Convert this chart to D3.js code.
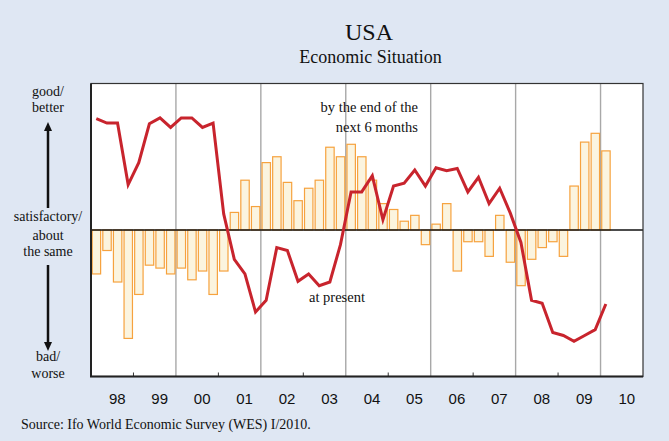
<!DOCTYPE html>
<html>
<head>
<meta charset="utf-8">
<script src="https://cdn.jsdelivr.net/npm/d3@7"></script>
<style>
  body { margin: 0; background: #dfe7f3; }
  svg text { font-family: "Liberation Serif", "Times New Roman", serif; fill: #111; }
  .xlab { font-family: "Liberation Sans", Arial, sans-serif !important; }
</style>
</head>
<body>
<div id="chart"></div>
<script>
// year tick labels
var yearLabels = ["98", "99", "00", "01", "02", "03", "04", "05", "06", "07", "08", "09", "10"];
var firstYear = 1998;

// expectations: by the end of the next 6 months (bars), quarterly 1998Q1 - 2010Q1
var expectations = [
  -30, -14, -35.5, -74,
  -44, -24, -26, -30,
  -26, -34, -28, -44,
  -28, 12, 34, 16,
  46, 50, 32.5, 20,
  28.5, 34, 56.5, 50,
  58.5, 50, 34, 18,
  14, 6, 10, -10,
  4, 18, -28, -8,
  -8, -18, 10, -22,
  -38, -20, -12, -8,
  -18, 30, 60, 66,
  54
];

// present situation (line), quarterly 1998Q1 - 2010Q1
var present = [
  76, 73, 73, 31,
  46, 72.5, 76.5, 70,
  76.5, 76.5, 70, 73,
  11, -20, -30, -56,
  -48, -12, -14, -35,
  -30, -38, -35.5, -10,
  26, 26, 37, 7,
  30, 32, 41, 30,
  42.5, 40.5, 42, 26,
  36, 18, 28.5, 11.5,
  -8.5, -48, -50, -70,
  -72, -76, -72, -68,
  -50.5
];

// quarter start times, e.g. 1998.0, 1998.25 ...
var quarters = expectations.map(function(d, i) { return firstYear + i / 4; });

var W = 669, H = 441;
var pLeft = 91, pRight = 643, pTop = 83.5, pBottom = 376.5;

var svg = d3.select("#chart")
  .append("svg")
    .attr("width", W)
    .attr("height", H);

svg.append("rect")
  .attr("width", W)
  .attr("height", H)
  .attr("fill", "#dfe7f3");

var x = d3.scaleLinear()
  .domain([firstYear, firstYear + yearLabels.length])
  .range([pLeft, pRight]);

var y = d3.scaleLinear()
  .domain([-100, 100])
  .range([pBottom, pTop]);

// plot area
svg.append("rect")
  .attr("x", pLeft)
  .attr("y", pTop)
  .attr("width", pRight - pLeft)
  .attr("height", pBottom - pTop)
  .attr("fill", "#fff");

// grid lines every two years
var gridYears = d3.range(firstYear + 2, firstYear + yearLabels.length, 2);
svg.selectAll(".grid")
  .data(gridYears)
  .enter()
  .append("line")
    .attr("x1", function(d) { return x(d); })
    .attr("x2", function(d) { return x(d); })
    .attr("y1", pTop)
    .attr("y2", pBottom)
    .attr("stroke", "#a8a8a8")
    .attr("stroke-width", 1.4);

// small ticks on the other years
var minorYears = d3.range(firstYear + 1, firstYear + yearLabels.length, 2);
svg.selectAll(".minor")
  .data(minorYears)
  .enter()
  .append("line")
    .attr("x1", function(d) { return x(d); })
    .attr("x2", function(d) { return x(d); })
    .attr("y1", pBottom - 4)
    .attr("y2", pBottom)
    .attr("stroke", "#333")
    .attr("stroke-width", 1);

// bars
var qw = x(firstYear + 0.25) - x(firstYear);
svg.selectAll(".bar")
  .data(expectations)
  .enter()
  .append("rect")
    .attr("x", function(d, i) { return x(quarters[i]) + 1.2; })
    .attr("y", function(d) { return d > 0 ? y(d) : y(0); })
    .attr("width", qw - 2.2)
    .attr("height", function(d) { return Math.abs(y(d) - y(0)); })
    .attr("fill", "#fbf4df")
    .attr("stroke", "#f6a23e")
    .attr("stroke-width", 1.2);

// zero line
svg.append("line")
  .attr("x1", pLeft)
  .attr("x2", pRight)
  .attr("y1", y(0))
  .attr("y2", y(0))
  .attr("stroke", "#111")
  .attr("stroke-width", 1.4);

// present situation line
var line = d3.line()
  .x(function(d, i) { return x(quarters[i]) + qw / 2; })
  .y(function(d) { return y(d); });

svg.append("path")
  .datum(present)
  .attr("d", line)
  .attr("fill", "none")
  .attr("stroke", "#c8242d")
  .attr("stroke-width", 3)
  .attr("stroke-linejoin", "miter");

// frame
svg.append("rect")
  .attr("x", pLeft)
  .attr("y", pTop)
  .attr("width", pRight - pLeft)
  .attr("height", pBottom - pTop)
  .attr("fill", "none")
  .attr("stroke", "#333")
  .attr("stroke-width", 1.2);
svg.append("path")
  .attr("d", "M" + pLeft + "," + pTop + "V" + pBottom + "H" + pRight)
  .attr("fill", "none")
  .attr("stroke", "#222")
  .attr("stroke-width", 2);

// x labels
svg.selectAll(".xlab")
  .data(yearLabels)
  .enter()
  .append("text")
    .attr("class", "xlab")
    .attr("x", function(d, i) { return x(firstYear + i + 0.5) + 5; })
    .attr("y", 404)
    .attr("text-anchor", "middle")
    .style("font-size", "15px")
    .text(function(d) { return d; });

// titles
svg.append("text")
  .attr("x", 369)
  .attr("y", 39.5)
  .attr("text-anchor", "middle")
  .style("font-size", "24px")
  .text("USA");
svg.append("text")
  .attr("x", 370.5)
  .attr("y", 63)
  .attr("text-anchor", "middle")
  .style("font-size", "18px")
  .text("Economic Situation");

// left scale description
var yl = [["good/", 96], ["better", 112], ["satisfactory/", 221], ["about", 240], ["the same", 256], ["bad/", 361], ["worse", 378]];
svg.selectAll(".ylab")
  .data(yl)
  .enter()
  .append("text")
    .attr("x", 48)
    .attr("y", function(d) { return d[1]; })
    .attr("text-anchor", "middle")
    .style("font-size", "14px")
    .text(function(d) { return d[0]; });

// arrows
svg.append("line")
  .attr("x1", 48).attr("x2", 48)
  .attr("y1", 208).attr("y2", 128)
  .attr("stroke", "#111").attr("stroke-width", 2.5);
svg.append("path")
  .attr("d", "M48,122L44,131L52,131Z")
  .attr("fill", "#111");
svg.append("line")
  .attr("x1", 48).attr("x2", 48)
  .attr("y1", 265).attr("y2", 345)
  .attr("stroke", "#111").attr("stroke-width", 2.5);
svg.append("path")
  .attr("d", "M48,351L44,342L52,342Z")
  .attr("fill", "#111");

// annotations
svg.append("text")
  .attr("x", 418).attr("y", 112)
  .attr("text-anchor", "end")
  .style("font-size", "14.5px")
  .text("by the end of the");
svg.append("text")
  .attr("x", 418).attr("y", 131.5)
  .attr("text-anchor", "end")
  .style("font-size", "14.5px")
  .text("next 6 months");
svg.append("text")
  .attr("x", 309).attr("y", 301.5)
  .style("font-size", "14.5px")
  .text("at present");

// source
svg.append("text")
  .attr("x", 21).attr("y", 429)
  .style("font-size", "14px")
  .text("Source: Ifo World Economic Survey (WES) I/2010.");
</script>
</body>
</html>
